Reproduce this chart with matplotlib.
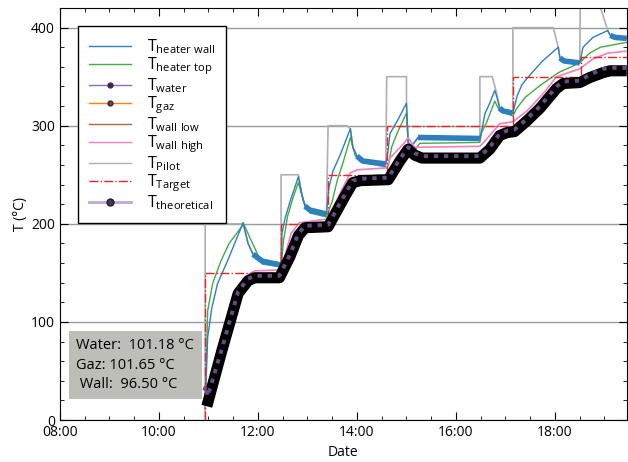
import matplotlib
matplotlib.use("Agg")
import matplotlib.pyplot as plt
import matplotlib.dates as mdates
from matplotlib.lines import Line2D
import pandas as pd

plt.rcParams["font.family"] = ["Open Sans", "DejaVu Sans"]
plt.rcParams["mathtext.fontset"] = "custom"
plt.rcParams["mathtext.rm"] = "Open Sans"
plt.rcParams["mathtext.default"] = "regular"

DAY = "2021-03-10 "

# --- data (time HH:MM, temperature in degC) ---
heater_wall_t = ["10:56", "10:59", "11:04", "11:11", "11:23", "11:42", "11:48", "11:54", "12:05", "12:28",
                 "12:29", "12:33", "12:39", "12:49", "12:53", "12:57", "13:03", "13:23",
                 "13:26", "13:31", "13:40", "13:52", "13:55", "14:00", "14:07", "14:35",
                 "14:38", "14:40", "14:49", "15:00", "15:02", "15:07", "15:14", "16:29",
                 "16:32", "16:35", "16:41", "16:47", "16:50", "16:53", "16:57", "17:09",
                 "17:14", "17:20", "17:30", "17:45", "18:04", "18:06", "18:11", "18:30",
                 "18:34", "18:46", "19:04", "19:07", "19:13", "19:27"]
heater_wall_T = [12, 84, 114, 139, 162, 201, 180, 169, 162, 158,
                 190, 206, 223, 248, 231, 218, 214, 210,
                 237, 254, 271, 297, 278, 269, 264, 261,
                 277, 292, 305, 323, 282, 280, 288, 287,
                 298, 312, 323, 336, 328, 318, 315, 313,
                 330, 342, 352, 366, 380, 369, 366, 364,
                 380, 390, 397, 392, 390, 389]

heater_top_t = ["10:56", "10:59", "11:05", "11:15", "11:25", "11:41", "11:42", "12:05", "12:28",
                "12:31", "12:36", "12:43", "12:49", "12:55", "13:03", "13:23",
                "13:30", "13:36", "13:43", "13:52", "13:58", "14:10", "14:35",
                "14:38", "14:42", "14:49", "15:00", "15:02", "15:06", "15:12", "15:16", "16:29",
                "16:31", "16:37", "16:47", "16:53", "17:09",
                "17:14", "17:24", "17:42", "18:04", "18:30",
                "18:42", "18:55", "19:27"]
heater_top_T = [12, 111, 139, 162, 180, 198, 201, 159, 156,
                183, 208, 228, 242, 223, 211, 207,
                223, 244, 262, 288, 269, 262, 258,
                259, 278, 293, 313, 285, 275, 277, 282, 283,
                293, 303, 325, 315, 310,
                318, 329, 341, 354, 364,
                374, 380, 385]

wall_high_t = ["10:56", "11:40", "11:48", "11:56", "12:28", "12:40", "12:50", "13:25", "13:40", "13:52",
               "14:00", "14:36", "14:40", "14:58", "15:02", "15:10", "16:29", "16:41", "16:53", "17:09",
               "17:26", "17:45", "18:02", "18:30", "18:46", "19:04", "19:27"]
wall_high_T = [14, 135, 148, 152, 153, 190, 201, 205, 232, 252,
               255, 257, 267, 283, 288, 278, 279, 290, 302, 304,
               315, 332, 350, 358, 368, 374, 376]

pilot_t = ["10:56", "10:56", "11:42", "11:48", "11:54", "12:05", "12:28", "12:28", "12:49",
           "12:53", "12:57", "13:03", "13:23", "13:25", "13:48", "13:52", "13:55", "14:00", "14:07",
           "14:35", "14:36", "15:00", "15:00", "15:02", "15:07", "15:14", "16:29", "16:29", "16:44",
           "16:49", "16:53", "16:57", "17:09", "17:09", "17:58", "18:04", "18:06", "18:11", "18:30",
           "18:31", "18:44", "19:04", "19:07", "19:13", "19:27"]
pilot_T = [0, 200, 200, 180, 169, 162, 158, 250, 250,
           231, 218, 214, 210, 300, 300, 297, 278, 269, 264,
           261, 350, 350, 323, 282, 280, 288, 287, 350, 350,
           334, 318, 315, 313, 400, 400, 380, 369, 366, 364,
           450, 450, 397, 392, 390, 389]

target_t = ["10:56", "10:56", "12:28", "13:25", "14:36", "17:09", "18:31", "19:27"]
target_T = [0, 150, 200, 250, 300, 350, 370, 370]

theoretical_t = ["10:58", "11:16", "11:36", "11:48", "11:56", "12:26", "12:39", "12:49", "12:57",
                 "13:25", "13:46", "13:55", "14:04", "14:38", "14:52", "15:02", "15:10", "15:19",
                 "16:29", "16:41", "16:53", "17:02", "17:11", "17:26", "17:42", "18:02", "18:10",
                 "18:30", "18:42", "18:58", "19:07", "19:27"]
theoretical_T = [14, 70, 129, 142, 145, 145, 167, 188, 196,
                 197, 229, 242, 244, 245, 264, 276, 270, 267,
                 267, 276, 290, 293, 294, 305, 318, 338, 343,
                 344, 349, 354, 356, 356]

water_t = ["10:55", "10:57", "10:59", "11:16", "11:36", "11:48", "11:56", "12:26", "12:39", "12:49",
           "12:57", "13:25", "13:46", "13:55", "14:04", "14:38", "14:52", "15:02", "15:10", "15:19",
           "16:29", "16:41", "16:53", "17:02", "17:11", "17:26", "17:42", "18:02", "18:10",
           "18:30", "18:42", "18:58", "19:07", "19:27"]
water_T = [30, 35, 24, 72, 131, 144, 147, 147, 169, 190,
           198, 199, 231, 244, 246, 247, 266, 278, 272, 269,
           269, 278, 292, 295, 296, 307, 320, 340, 345,
           346, 352, 358, 359, 359]

# heater wall oscillates strongly on the plateaus
noisy_spans = [("11:50", "12:28"), ("12:55", "13:23"), ("13:58", "14:35"), ("15:10", "16:29"),
               ("16:52", "17:09"), ("18:06", "18:30"), ("19:06", "19:27")]

box_text = "Water:  101.18 °C\nGaz: 101.65 °C\n Wall:  96.50 °C"


def hm(times):
    return pd.to_datetime([DAY + t for t in times])


fig = plt.figure(figsize=(6.28, 4.62), dpi=100)
ax = fig.add_axes([0.0955, 0.0909, 0.9025, 0.8918])

c_wall, c_top = "#2e7fc0", "#43ab43"
c_pink, c_pilot = "#f27fc3", "#b0b0b0"

ax.plot(hm(pilot_t), pilot_T, color=c_pilot, lw=1.2, zorder=1)
ax.plot(hm(heater_top_t), heater_top_T, color=c_top, lw=1.0, zorder=2)
hw = pd.Series(heater_wall_T, index=hm(heater_wall_t))
for a, b in noisy_spans:
    seg = hw[(hw.index >= hm([a])[0]) & (hw.index <= hm([b])[0])]
    ax.plot(seg.index, seg.values, color=c_wall, lw=4.0, solid_capstyle="butt", zorder=2)
ax.plot(hw.index, hw.values, color=c_wall, lw=1.0, zorder=2)
ax.plot(hm(water_t), water_T, color="tab:orange", lw=1.0, zorder=2)
ax.plot(hm(wall_high_t), wall_high_T, color=c_pink, lw=1.2, zorder=3)
ax.plot(hm(target_t), target_T, color="#ee2222", lw=1.0, ls="-.", drawstyle="steps-post", zorder=3)
ax.plot(hm(theoretical_t), theoretical_T, color="black", lw=8, solid_capstyle="butt",
        solid_joinstyle="round", zorder=4)
ax.plot(hm(water_t), water_T, color="#6a4c85", lw=2.8, ls=(0, (1.1, 1.5)), zorder=5)

ax.set_xlim(hm(["08:00"])[0], hm(["19:27"])[0])
ax.set_ylim(0, 420)
ax.xaxis.set_major_locator(mdates.HourLocator(byhour=range(0, 24, 2)))
ax.xaxis.set_minor_locator(mdates.MinuteLocator(byminute=[0, 30]))
ax.xaxis.set_major_formatter(mdates.DateFormatter("%H:%M"))
ax.set_yticks(range(0, 401, 100))
ax.set_yticks(range(0, 421, 20), minor=True)
ax.tick_params(which="both", direction="in", top=True, right=True, labelsize=10)
ax.tick_params(which="major", length=6)
ax.tick_params(which="minor", length=3)
ax.yaxis.grid(True, color="#999999", lw=1.0)
ax.set_axisbelow(True)
ax.set_xlabel("Date", fontsize=10, labelpad=4)
ax.set_ylabel("T (°C)", fontsize=10, labelpad=2)

handles = [
    Line2D([], [], color=c_wall, lw=1),
    Line2D([], [], color=c_top, lw=1),
    Line2D([], [], color="#9467bd", lw=1, marker="o", ms=3.5, mfc="#3b2650", mec="#3b2650"),
    Line2D([], [], color="tab:orange", lw=1, marker="o", ms=3.5, mfc="#6b4a2a", mec="#3b2650"),
    Line2D([], [], color="#b5653a", lw=1),
    Line2D([], [], color=c_pink, lw=1),
    Line2D([], [], color=c_pilot, lw=1),
    Line2D([], [], color="#ee2222", lw=1, ls="-."),
    Line2D([], [], color="#c2a8d4", lw=2, marker="o", ms=5, mfc="#4a3060", mec="#222222"),
]
labels = [r"T$_{heater\ wall}$", r"T$_{heater\ top}$", r"T$_{water}$", r"T$_{gaz}$",
          r"T$_{wall\ low}$", r"T$_{wall\ high}$", r"T$_{Pilot}$", r"T$_{Target}$",
          r"T$_{theoretical}$"]
leg = ax.legend(handles, labels, loc="upper left", bbox_to_anchor=(0.032, 0.956), fontsize=11.5,
                frameon=True, fancybox=False, edgecolor="black", framealpha=1,
                borderaxespad=0, handlelength=2.6, handletextpad=1.0, labelspacing=-0.05,
                borderpad=0.7)
leg.get_frame().set_linewidth(1.0)

ax.text(0.029, 0.068, box_text, transform=ax.transAxes, fontsize=10.5, linespacing=1.4,
        va="bottom", ha="left", zorder=6,
        bbox=dict(boxstyle="square,pad=0.5", fc="#bdbeb7", ec="none"))

fig.savefig("out.png", dpi=100)
